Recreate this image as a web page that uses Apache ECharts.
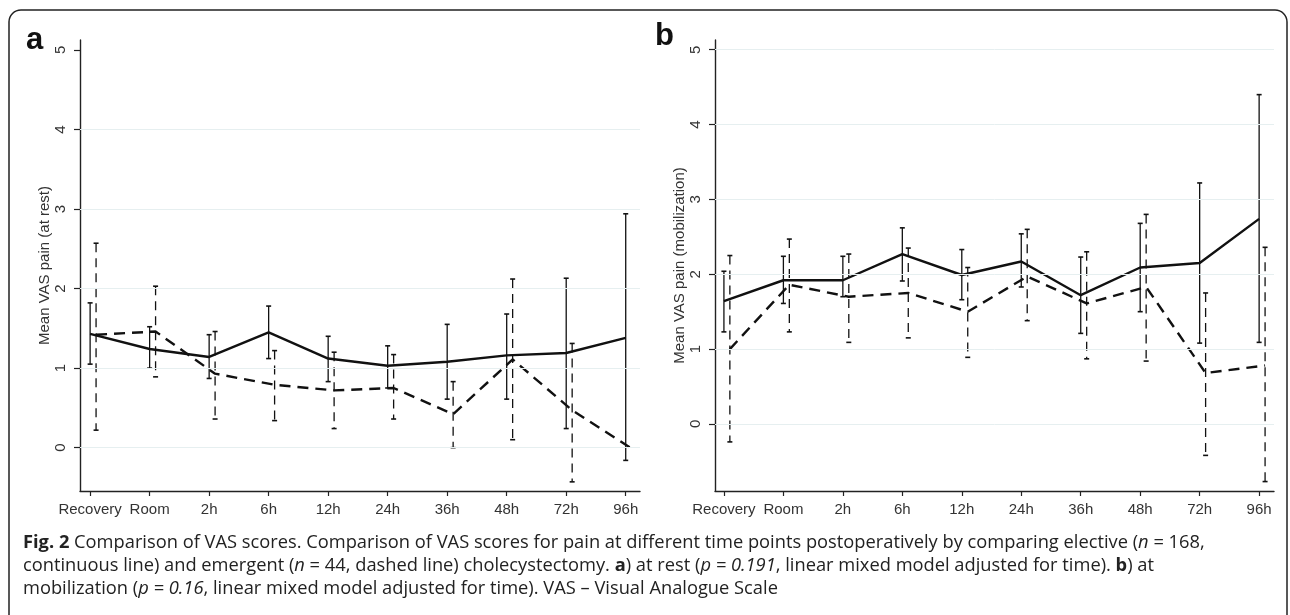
<!DOCTYPE html>
<html>
<head>
<meta charset="utf-8">
<script src="https://cdn.jsdelivr.net/npm/echarts@6/dist/echarts.min.js"></script>
<style>html,body{margin:0;padding:0;background:#fff}#c{width:1290px;height:615px}</style>
</head>
<body>
<div id="c"></div>
<script>
// ---------- DATA ----------
const categories = ['Recovery', 'Room', '2h', '6h', '12h', '24h', '36h', '48h', '72h', '96h'];
const yTicks = [0, 1, 2, 3, 4, 5];
const gridTicksA = [0, 1, 2, 3, 4];
const gridTicksB = [0, 1, 2, 3, 4, 5];

// Panel a: at rest
const restElectiveMean = [1.43, 1.24, 1.14, 1.45, 1.12, 1.03, 1.08, 1.16, 1.19, 1.38];
const restElectiveLow  = [1.05, 1.00, 0.87, 1.12, 0.83, 0.75, 0.61, 0.61, 0.24, -0.16];
const restElectiveHigh = [1.82, 1.52, 1.42, 1.78, 1.40, 1.28, 1.55, 1.68, 2.13, 2.94];
const restEmergentMean = [1.42, 1.46, 0.93, 0.79, 0.72, 0.75, 0.42, 1.11, 0.47, -0.01];
const restEmergentLow  = [0.22, 0.89, 0.36, 0.34, 0.24, 0.36, 0.00, 0.10, -0.43, null];
const restEmergentHigh = [2.57, 2.03, 1.46, 1.22, 1.20, 1.17, 0.83, 2.12, 1.31, null];

// Panel b: at mobilization
const mobElectiveMean = [1.64, 1.92, 1.92, 2.27, 1.99, 2.17, 1.72, 2.09, 2.15, 2.74];
const mobElectiveLow  = [1.23, 1.61, 1.70, 1.91, 1.66, 1.83, 1.21, 1.50, 1.08, 1.09];
const mobElectiveHigh = [2.04, 2.24, 2.24, 2.62, 2.33, 2.54, 2.23, 2.68, 3.22, 4.40];
const mobEmergentMean = [1.00, 1.86, 1.70, 1.75, 1.50, 1.97, 1.61, 1.83, 0.68, 0.78];
const mobEmergentLow  = [-0.24, 1.23, 1.09, 1.15, 0.89, 1.38, 0.87, 0.84, -0.42, -0.77];
const mobEmergentHigh = [2.25, 2.47, 2.27, 2.35, 2.09, 2.60, 2.30, 2.80, 1.75, 2.36];

const emergentShift = 0.1; // dodge of emergent marks to the right of the category

// ---------- BUILD ----------
const ink = '#111';
function pts(means, shift) { return means.map((v, i) => [i + shift, v]); }
function errs(lo, hi, shift) {
  const out = [];
  lo.forEach((l, i) => { if (l != null && hi[i] != null) out.push([i + shift, l, hi[i]]); });
  return out;
}
function errSeries(idx, data, dashed) {
  return {
    type: 'custom', xAxisIndex: idx, yAxisIndex: idx, z: 3, silent: true,
    data: data,
    renderItem: function (params, api) {
      const x = api.value(0), lo = api.value(1), hi = api.value(2);
      const p1 = api.coord([x, hi]), p2 = api.coord([x, lo]);
      const w = 2.5;
      const st = { stroke: ink, lineWidth: 1.3, lineDash: dashed ? [9, 6] : null };
      const cap = { stroke: ink, lineWidth: 1.6 };
      return { type: 'group', children: [
        { type: 'line', shape: { x1: p1[0], y1: p1[1], x2: p2[0], y2: p2[1] }, style: st },
        { type: 'line', shape: { x1: p1[0] - w, y1: p1[1], x2: p1[0] + w, y2: p1[1] }, style: cap },
        { type: 'line', shape: { x1: p2[0] - w, y1: p2[1], x2: p2[0] + w, y2: p2[1] }, style: cap }
      ]};
    }
  };
}
function lineSeries(idx, data, dashed) {
  return {
    type: 'line', xAxisIndex: idx, yAxisIndex: idx, z: 4, silent: true,
    data: data, symbol: 'none',
    lineStyle: { color: ink, width: 2.4, type: dashed ? [11, 7] : 'solid' }
  };
}
function gridSeries(idx, ticks) {
  return {
    type: 'line', xAxisIndex: idx, yAxisIndex: idx, z: 1, silent: true, data: [],
    markLine: { silent: true, symbol: 'none', label: { show: false },
      lineStyle: { color: '#e6eff0', width: 1, type: 'solid' },
      data: ticks.map(t => ({ yAxis: t })) }
  };
}
const axFont = { fontFamily: 'Liberation Sans, Arial, sans-serif', fontSize: 15, color: '#333' };
function xAx(idx, min, max) {
  return {
    type: 'value', gridIndex: idx, min: min, max: max,
    axisLine: { show: true, onZero: false, lineStyle: { color: '#222', width: 1.4 } },
    axisTick: { show: true, length: 5, lineStyle: { color: '#222', width: 1.2 }, customValues: categories.map((c, i) => i) },
    axisLabel: Object.assign({ margin: 11, customValues: categories.map((c, i) => i),
      formatter: v => categories[Math.round(v)] }, axFont),
    splitLine: { show: false }
  };
}
function yAx(idx, min, max, name, gap) {
  return {
    type: 'value', gridIndex: idx, min: min, max: max,
    name: name, nameLocation: 'middle', nameRotate: 90, nameGap: gap,
    nameTextStyle: { fontFamily: 'Liberation Sans, Arial, sans-serif', fontSize: 15, color: '#333' },
    axisLine: { show: true, onZero: false, lineStyle: { color: '#222', width: 1.4 } },
    axisTick: { show: true, length: 6, lineStyle: { color: '#222', width: 1.2 }, customValues: yTicks },
    axisLabel: Object.assign({ rotate: 90, margin: 12, customValues: yTicks }, axFont),
    splitLine: { show: false }
  };
}

const capSize = 18.3;
const capFont = { fontFamily: 'Open Sans, Noto Sans, sans-serif', fontSize: capSize, fill: '#222' };
const rich = { b: { fontWeight: 'bold', fontFamily: 'Open Sans', fontSize: capSize, color: '#222' },
               i: { fontStyle: 'italic', fontFamily: 'Open Sans', fontSize: capSize, color: '#222' } };
const capLines = [
  '{b|Fig. 2} Comparison of VAS scores. Comparison of VAS scores for pain at different time points postoperatively by comparing elective ({i|n} = 168,',
  'continuous line) and emergent ({i|n} = 44, dashed line) cholecystectomy. {b|a}) at rest ({i|p = 0.191}, linear mixed model adjusted for time). {b|b}) at',
  'mobilization ({i|p = 0.16}, linear mixed model adjusted for time). VAS – Visual Analogue Scale'
];

const chart = echarts.init(document.getElementById('c'), null, { renderer: 'canvas' });
chart.setOption({
  animation: false,
  grid: [
    { left: 80, right: 650, top: 40, bottom: 124 },
    { left: 715, right: 16, top: 40, bottom: 124 }
  ],
  xAxis: [xAx(0, -0.17, 9.24), xAx(1, -0.15, 9.25)],
  yAxis: [yAx(0, -0.545, 5.125, 'Mean VAS pain (at rest)', 27), yAx(1, -0.896, 5.13, 'Mean VAS pain (mobilization)', 25)],
  series: [
    gridSeries(0, gridTicksA),
    gridSeries(1, gridTicksB),
    errSeries(0, errs(restElectiveLow, restElectiveHigh, 0), false),
    errSeries(0, errs(restEmergentLow, restEmergentHigh, emergentShift), true),
    lineSeries(0, pts(restElectiveMean, 0), false),
    lineSeries(0, pts(restEmergentMean, emergentShift), true),
    errSeries(1, errs(mobElectiveLow, mobElectiveHigh, 0), false),
    errSeries(1, errs(mobEmergentLow, mobEmergentHigh, emergentShift), true),
    lineSeries(1, pts(mobElectiveMean, 0), false),
    lineSeries(1, pts(mobEmergentMean, emergentShift), true)
  ],
  graphic: [
    { type: 'rect', shape: { x: 9, y: 10, width: 1278, height: 700, r: 12 }, style: { fill: 'none', stroke: '#222', lineWidth: 1.5 }, silent: true },
    { type: 'text', left: 26, top: 25, style: { text: 'a', font: 'bold 31px Liberation Sans, Arial, sans-serif', fill: '#111' } },
    { type: 'text', left: 655, top: 21, style: { text: 'b', font: 'bold 31px Liberation Sans, Arial, sans-serif', fill: '#111' } },
    ...capLines.map((t, k) => ({ type: 'text', left: 23, top: 534 + k * 23,
      style: Object.assign({ text: t, rich: rich }, capFont) }))
  ]
});
</script>
</body>
</html>
